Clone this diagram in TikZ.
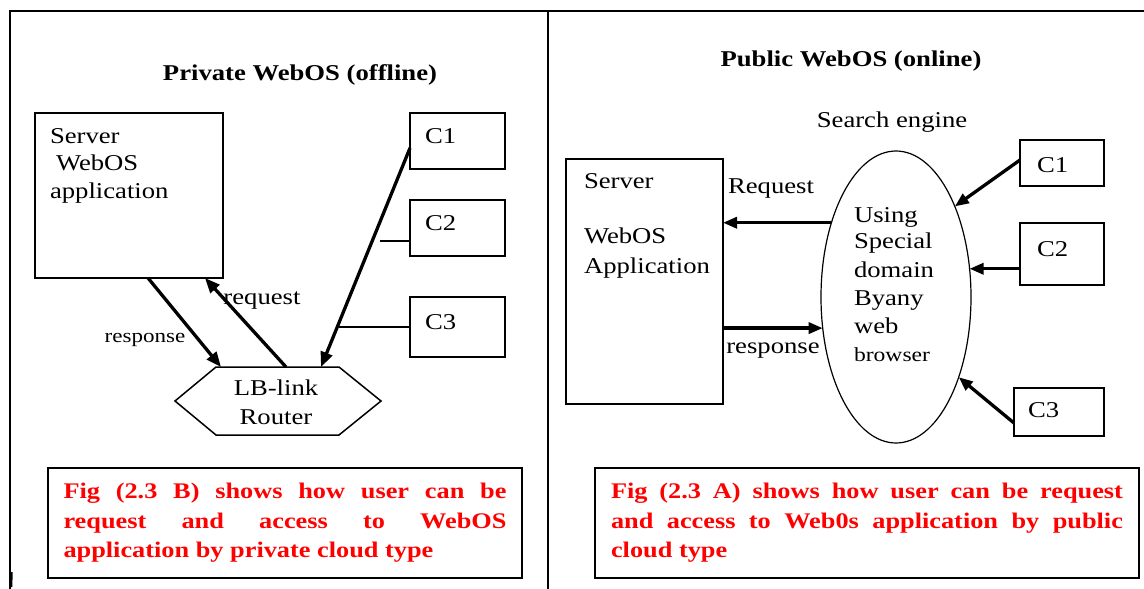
\documentclass[tikz,border=0pt]{standalone}
\usepackage{fontspec}
\setmainfont{Liberation Serif}[FakeStretch=1.18]
\usetikzlibrary{calc,arrows.meta,shapes.geometric}
\begin{document}
\begin{tikzpicture}[x=1pt,y=-1pt,
  every node/.style={inner sep=0pt, outer sep=0pt, font=\fontsize{22.6}{28}\selectfont},
  box/.style={draw, line width=1.5pt, rectangle},
  frame/.style={line width=1.6pt},
  arr/.style={line width=3.3pt, -{Triangle[length=15pt,width=12pt]}},
  arrR/.style={line width=3.3pt, -{Triangle[length=14pt,width=11pt]}},
  thinline/.style={line width=1.2pt},
  lbl/.style={anchor=base west},
  ttl/.style={anchor=base, font=\bfseries\fontsize{22.6}{28}\selectfont},
  capbox/.style={draw, line width=1.5pt, text=red, font=\bfseries\fontsize{22.3}{29.5}\selectfont, align=justify, minimum height=110pt}
]
\useasboundingbox (0,0) rectangle (1144,589);
\fill[white] (0,0) rectangle (1144,589);
% frame
\coordinate (tl) at (10,11);
\coordinate (tr) at (1144,11);
\coordinate (bl) at (10,589);
\coordinate (mt) at (548,11);
\coordinate (mb) at (548,589);
\draw[frame] (tr) -- (tl) -- (bl);
\draw[frame] (mt) -- (mb);
\draw[line width=2.5pt] (11.5,572) -- (11,587);

% ---------- left panel ----------
\node[ttl] (titleL) at (300,80) {Private WebOS (offline)};
\node[box, minimum width=188pt, minimum height=165pt] (srvL) at (129,195.5) {};
\node[lbl] (srvLa) at (50,143) {Server};
\node[lbl] (srvLb) at (56,170) {WebOS};
\node[lbl] (srvLc) at (50,198) {application};

\node[box, minimum width=95pt, minimum height=56pt] (c1L) at (457.5,141) {};
\node[box, minimum width=95pt, minimum height=56pt] (c2L) at (457.5,228) {};
\node[box, minimum width=95pt, minimum height=60pt] (c3L) at (457.5,327) {};
\node[lbl] (c1Lt) at (425,143) {C1};
\node[lbl] (c2Lt) at (425,230) {C2};
\node[lbl] (c3Lt) at (425,329) {C3};

\node[minimum width=206pt, minimum height=68pt] (rtr) at (278,401) {};
\draw[box] (rtr.west) -- ($(rtr.north west)+(41,0)$) -- ($(rtr.north east)+(-42,0)$) -- (rtr.east) -- ($(rtr.south east)+(-42,0)$) -- ($(rtr.south west)+(41,0)$) -- cycle;
\node[anchor=base] (rtrA) at (276,395) {LB-link};
\node[anchor=base] (rtrB) at (276,424) {Router};

\draw[arr] ($(srvL.south west)+(113,0)$) -- ($(rtr.north west)+(46,0)$);
\draw[arr] ($(rtr.north west)+(111,0)$) -- ($(srvL.south west)+(170,0)$);
\draw[arr] ($(c1L.west)+(0,7)$) -- ($(rtr.north west)+(146,0)$);
\coordinate (c2end) at (380,241);
\draw[thinline] ($(c2L.west)+(0,13)$) -- (c2end);
\coordinate (c3end) at (339,327);
\draw[thinline] (c3L.west) -- (c3end);

\node[anchor=base] (reqL) at (262,304) {request};
\node[anchor=base, font=\fontsize{19.5}{23}\selectfont] (resL) at (145,342) {response};

\node[capbox, text width=443pt, inner xsep=15.5pt] (capL) at (285,523) {\noindent Fig (2.3 B) shows how user can be\linebreak request and access to WebOS\linebreak application by private cloud type};

% ---------- right panel ----------
\node[ttl] (titleR) at (851,66) {Public WebOS (online)};
\node[anchor=base] (search) at (892,127) {Search engine};
\node[box, minimum width=157pt, minimum height=245pt] (srvR) at (644.5,281.5) {};
\node[lbl] (srvRa) at (584,188) {Server};
\node[lbl] (srvRb) at (584,243) {WebOS};
\node[lbl] (srvRc) at (584,273) {Application};

\node[draw, ellipse, line width=1.2pt, minimum width=150pt, minimum height=292pt] (ell) at (896,297) {};
\node[lbl] (e1) at (854,222) {Using};
\node[lbl] (e2) at (854,248) {Special};
\node[lbl] (e3) at (854,277) {domain};
\node[lbl] (e4) at (854,305) {Byany};
\node[lbl] (e5) at (854,333) {web};
\node[lbl, font=\fontsize{20}{24}\selectfont] (e6) at (854,361) {browser};

\node[box, minimum width=84pt, minimum height=46pt] (c1R) at (1062,163) {};
\node[box, minimum width=84pt, minimum height=62pt] (c2R) at (1062,254) {};
\node[box, minimum width=90pt, minimum height=48pt] (c3R) at (1059,412) {};
\node[lbl] (c1Rt) at (1037,172) {C1};
\node[lbl] (c2Rt) at (1037,256) {C2};
\node[lbl] (c3Rt) at (1028,417) {C3};

\draw[arrR] (ell.131) -- (ell.131 -| srvR.east);
\draw[arrR] (ell.203 -| srvR.east) -- (ell.203);
\draw[arrR] ($(c1R.west)+(0,-3)$) -- (ell.57);
\draw[arrR] (c2R.west |- ell.21) -- (ell.21);
\draw[arrR] ($(c3R.west)+(0,11)$) -- (ell.308);

\node[anchor=base] (reqR) at (771,193) {Request};
\node[anchor=base] (resR) at (773,353) {response};

\node[capbox, text width=512pt, inner xsep=16pt] (capR) at (867,523) {\noindent Fig (2.3 A) shows how user can be request\linebreak and access to Web0s application by public\linebreak cloud type};
\end{tikzpicture}
\end{document}
